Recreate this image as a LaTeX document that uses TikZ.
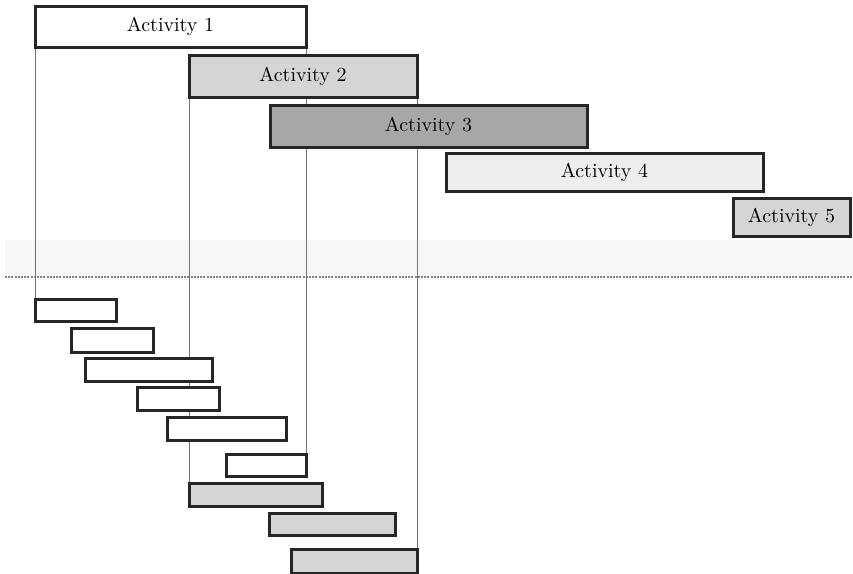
\documentclass[tikz,border=0pt]{standalone}
\usepackage{tikz}
\usetikzlibrary{
    fit,
    backgrounds
}
\definecolor{palegray}{HTML}{EEEEEE}
\definecolor{midgray}{HTML}{D5D5D5}
\definecolor{darkgray}{HTML}{A7A7A7}
\tikzset{
    actbox/.style={
        draw=black!85,
        line width=1.5pt,
        inner sep=0pt,
        outer sep=0pt,
        fill=white
    },
    every label/.style={
        font=\fontsize{10}{12}\selectfont
    },
    guide/.style={
        draw=black!55,
        line width=0.5pt
    }
}

\begin{document}
\begin{tikzpicture}[
    x=0.5pt,
    y=-0.5pt
]
    \useasboundingbox (0,0) rectangle (853,574);

    % Actividades
    \node[actbox, fit={(35,6) (306,47)},
          label=center:{Activity 1}]                   (a1) {};
    \node[actbox, fill=midgray, fit={(189,55) (417,97)},
          label=center:{Activity 2}]                   (a2) {};
    \node[actbox, fill=darkgray, fit={(270,105) (587,147)},
          label=center:{Activity 3}]                   (a3) {};
    \node[actbox, fill=palegray, fit={(446,153) (763,191)},
          label=center:{Activity 4}]                   (a4) {};
    \node[actbox, fill=midgray, fit={(733,198) (850,236)},
          label=center:{Activity 5}]                   (a5) {};

    % Tareas
    \node[actbox, fit={(35,299) (116,321)}]                (b1) {};
    \node[actbox, fit={(71,328) (153,352)}]                (b2) {};
    \node[actbox, fit={(85,358) (212,381)}]                (b3) {};
    \node[actbox, fit={(137,387) (219,410)}]               (b4) {};
    \node[actbox, fit={(167,417) (286,440)}]               (b5) {};
    \node[actbox, fit={(226,454) (306,476)}]               (b6) {};
    \node[actbox, fill=midgray, fit={(189,483) (322,506)}] (b7) {};
    \node[actbox, fill=midgray, fit={(269,513) (395,535)}] (b8) {};
    \node[actbox, fill=midgray, fit={(291,549) (417,573)}] (b9) {};

    \begin{scope}[on background layer]
        % Franja
        \fill[black!3] (5,240) rectangle (853,275);
        \draw[black!50, line width=0.6pt, dash pattern=on 1pt off 0.6pt]
            (5,277) -- (853,277);

        % Guias
        \draw[guide] (a1.south west) -- (a1.south west |- b1.north);
        \draw[guide] (a1.south east) -- (a1.south east |- b6.north);
        \draw[guide] (a2.south west) -- (a2.south west |- b7.north);
        \draw[guide] (a2.south east) -- (a2.south east |- b9.north);
    \end{scope}

\end{tikzpicture}
\end{document}
